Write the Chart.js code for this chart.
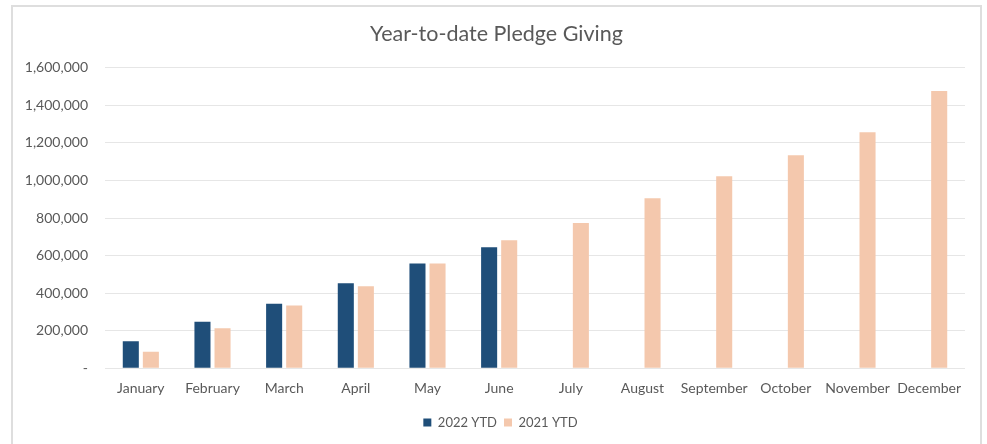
<!DOCTYPE html>
<html>
<head>
<meta charset="utf-8">
<script src="https://cdn.jsdelivr.net/npm/chart.js@4"></script>
<style>
  html, body { margin:0; padding:0; background:#fff; }
  #wrap { position:relative; width:987px; height:444px; overflow:hidden; }
  #frame { position:absolute; left:11px; top:5px; width:971px; height:460px; border:2px solid #dedede; box-sizing:border-box; }
  canvas { position:absolute; left:0; top:0; }
</style>
</head>
<body>
<div id="wrap">
  <div id="frame"></div>
  <canvas id="chart" width="987" height="444"></canvas>
</div>
<script>
const MONTHS  = ["January","February","March","April","May","June","July","August","September","October","November","December"];
const YTD2022 = [144000, 247000, 343000, 452000, 558000, 644000, null, null, null, null, null, null];
const YTD2021 = [87000, 213000, 334000, 437000, 558000, 681000, 773000, 905000, 1022000, 1134000, 1257000, 1477000];
const Y_MAX   = 1600000;
const Y_STEP  = 200000;

const FONT = "Lato, 'Open Sans', sans-serif";
const GREY = "#595959";

function fmtTick(v) {
  return v === 0 ? "-" : Number(v).toLocaleString("en-US");
}

// title and legend are centred on the frame, not on the padded chart box
const centreShift = {
  id: "centreShift",
  afterLayout(chart) {
    const lg = chart.legend, tb = chart.titleBlock;
    if (lg) { lg.left += 18; lg.right += 18; }
    if (tb) { tb.left += 14; tb.right += 14; }
  }
};

new Chart(document.getElementById("chart").getContext("2d"), {
  type: "bar",
  data: {
    labels: MONTHS,
    datasets: [
      { label:"2022 YTD", data:YTD2022, backgroundColor:"#1F4E79", borderWidth:0 },
      { label:"2021 YTD", data:YTD2021, backgroundColor:"#F4C8AD", borderWidth:0 }
    ]
  },
  plugins: [centreShift],
  options: {
    responsive:false, animation:false,
    categoryPercentage:0.56, barPercentage:0.8,
    layout: { padding: { left:0, right:22, top:0, bottom:5 } },
    plugins: {
      title: {
        display:true, text:"Year-to-date Pledge Giving", color:GREY,
        font:{ family:FONT, size:21.5, weight:"normal" },
        padding:{ top:21, bottom:21 }
      },
      legend: {
        position:"bottom",
        labels:{ color:GREY, font:{ family:FONT, size:13 }, boxWidth:8, boxHeight:8, padding:7 }
      },
      tooltip: { enabled:false }
    },
    scales: {
      x: {
        grid:{ display:false, drawTicks:false },
        border:{ display:false },
        ticks:{ color:GREY, font:{ family:FONT, size:14 }, padding:12, maxRotation:0 }
      },
      y: {
        min:0, max:Y_MAX,
        afterFit(scale) { scale.width = 105; },
        grid:{ color:"#e6e6e6", drawTicks:false },
        border:{ display:false },
        ticks:{ stepSize:Y_STEP, color:GREY, font:{ family:FONT, size:14 }, padding:17, callback:v => fmtTick(v) }
      }
    }
  }
});
</script>
</body>
</html>
